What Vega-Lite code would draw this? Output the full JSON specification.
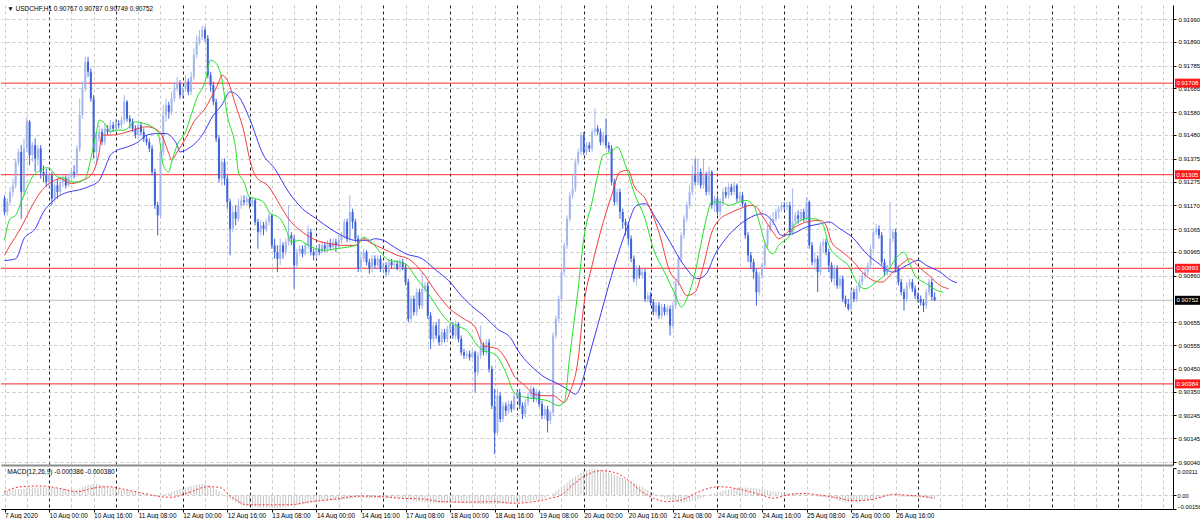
{
"$schema": "https://vega.github.io/schema/vega-lite/v6.json",
"padding": {"left": 0, "top": 5, "right": 0, "bottom": 0},
"background": "white",
"spacing": 1,
"config": {"view": {"stroke": null}, "font": "Liberation Sans", "scale": {"continuousPadding": 0}, "axis": {"labelFont": "Liberation Sans", "labelColor": "#000", "domainColor": "#000", "tickColor": "#000", "labelOverlap": false}},
"datasets": {
"bars": [
{"i":0,"o":0.912,"h":0.91214,"l":0.91126,"c":0.91141,"m":0.00048},
{"i":1,"o":0.91141,"h":0.912,"l":0.91126,"c":0.91185,"m":0.00052},
{"i":2,"o":0.91185,"h":0.91251,"l":0.9117,"c":0.91229,"m":0.00056},
{"i":3,"o":0.91229,"h":0.91288,"l":0.91207,"c":0.91258,"m":0.0006},
{"i":4,"o":0.91258,"h":0.91376,"l":0.91244,"c":0.91361,"m":0.00064},
{"i":5,"o":0.91361,"h":0.9142,"l":0.91346,"c":0.91405,"m":0.00068},
{"i":6,"o":0.91405,"h":0.91435,"l":0.91111,"c":0.91229,"m":0.0007},
{"i":7,"o":0.91229,"h":0.91464,"l":0.91214,"c":0.9142,"m":0.00074},
{"i":8,"o":0.9142,"h":0.9156,"l":0.91405,"c":0.91538,"m":0.00079},
{"i":9,"o":0.91538,"h":0.91545,"l":0.91346,"c":0.91391,"m":0.00083},
{"i":10,"o":0.91391,"h":0.91449,"l":0.91361,"c":0.91435,"m":0.00086},
{"i":11,"o":0.91435,"h":0.91464,"l":0.91317,"c":0.91376,"m":0.00088},
{"i":12,"o":0.91376,"h":0.91435,"l":0.91346,"c":0.9142,"m":0.0009},
{"i":13,"o":0.9142,"h":0.91435,"l":0.91288,"c":0.91317,"m":0.0009},
{"i":14,"o":0.91317,"h":0.91346,"l":0.91273,"c":0.91302,"m":0.00089},
{"i":15,"o":0.91302,"h":0.91332,"l":0.91251,"c":0.91273,"m":0.00087},
{"i":16,"o":0.91273,"h":0.91317,"l":0.91244,"c":0.91302,"m":0.00085},
{"i":17,"o":0.91302,"h":0.91317,"l":0.9117,"c":0.912,"m":0.00083},
{"i":18,"o":0.912,"h":0.91273,"l":0.91185,"c":0.91258,"m":0.00082},
{"i":19,"o":0.91258,"h":0.91288,"l":0.912,"c":0.91229,"m":0.0008},
{"i":20,"o":0.91229,"h":0.91288,"l":0.91214,"c":0.91273,"m":0.0008},
{"i":21,"o":0.91273,"h":0.9131,"l":0.91251,"c":0.91288,"m":0.00077},
{"i":22,"o":0.91288,"h":0.91302,"l":0.91244,"c":0.91258,"m":0.00073},
{"i":23,"o":0.91258,"h":0.9131,"l":0.91251,"c":0.91295,"m":0.00069},
{"i":24,"o":0.91295,"h":0.91332,"l":0.9128,"c":0.91317,"m":0.00065},
{"i":25,"o":0.91317,"h":0.91346,"l":0.91288,"c":0.9131,"m":0.00061},
{"i":26,"o":0.9131,"h":0.91435,"l":0.91295,"c":0.9142,"m":0.0006},
{"i":27,"o":0.9142,"h":0.9164,"l":0.91405,"c":0.91567,"m":0.00075},
{"i":28,"o":0.91567,"h":0.91714,"l":0.91552,"c":0.91685,"m":0.00092},
{"i":29,"o":0.91685,"h":0.91824,"l":0.9167,"c":0.91802,"m":0.00108},
{"i":30,"o":0.91802,"h":0.91824,"l":0.91736,"c":0.91758,"m":0.00118},
{"i":31,"o":0.91758,"h":0.91773,"l":0.91626,"c":0.9164,"m":0.00124},
{"i":32,"o":0.9164,"h":0.91655,"l":0.91376,"c":0.91405,"m":0.00128},
{"i":33,"o":0.91405,"h":0.91493,"l":0.91361,"c":0.91464,"m":0.0013},
{"i":34,"o":0.91464,"h":0.91523,"l":0.91449,"c":0.91493,"m":0.00124},
{"i":35,"o":0.91493,"h":0.91508,"l":0.91435,"c":0.91449,"m":0.00115},
{"i":36,"o":0.91449,"h":0.9153,"l":0.91435,"c":0.91508,"m":0.00106},
{"i":37,"o":0.91508,"h":0.91523,"l":0.91479,"c":0.91493,"m":0.00098},
{"i":38,"o":0.91493,"h":0.91545,"l":0.91479,"c":0.91523,"m":0.0009},
{"i":39,"o":0.91523,"h":0.91538,"l":0.91493,"c":0.91508,"m":0.00084},
{"i":40,"o":0.91508,"h":0.91552,"l":0.91493,"c":0.9153,"m":0.00078},
{"i":41,"o":0.9153,"h":0.91545,"l":0.91508,"c":0.91523,"m":0.00072},
{"i":42,"o":0.91523,"h":0.9156,"l":0.91508,"c":0.91545,"m":0.00066},
{"i":43,"o":0.91545,"h":0.91655,"l":0.9153,"c":0.91626,"m":0.0006},
{"i":44,"o":0.91626,"h":0.91633,"l":0.91538,"c":0.91552,"m":0.00055},
{"i":45,"o":0.91552,"h":0.91567,"l":0.91508,"c":0.91538,"m":0.00049},
{"i":46,"o":0.91538,"h":0.91552,"l":0.91493,"c":0.91508,"m":0.00043},
{"i":47,"o":0.91508,"h":0.91523,"l":0.91464,"c":0.91479,"m":0.00037},
{"i":48,"o":0.91479,"h":0.91538,"l":0.91464,"c":0.91523,"m":0.00031},
{"i":49,"o":0.91523,"h":0.91538,"l":0.91479,"c":0.91493,"m":0.00025},
{"i":50,"o":0.91493,"h":0.91508,"l":0.91449,"c":0.91464,"m":0.00018},
{"i":51,"o":0.91464,"h":0.91479,"l":0.91435,"c":0.91449,"m":0.00011},
{"i":52,"o":0.91449,"h":0.91464,"l":0.91405,"c":0.9142,"m":0.00004},
{"i":53,"o":0.9142,"h":0.91435,"l":0.91302,"c":0.91317,"m":-0.00003},
{"i":54,"o":0.91317,"h":0.91332,"l":0.91155,"c":0.9117,"m":-0.0001},
{"i":55,"o":0.9117,"h":0.91185,"l":0.91038,"c":0.91126,"m":-0.00006},
{"i":56,"o":0.91126,"h":0.91435,"l":0.91111,"c":0.91405,"m":0.00002},
{"i":57,"o":0.91405,"h":0.91611,"l":0.91391,"c":0.91567,"m":0.0001},
{"i":58,"o":0.91567,"h":0.9164,"l":0.91538,"c":0.91611,"m":0.00015},
{"i":59,"o":0.91611,"h":0.91626,"l":0.91552,"c":0.91582,"m":0.00026},
{"i":60,"o":0.91582,"h":0.9167,"l":0.91567,"c":0.9164,"m":0.00037},
{"i":61,"o":0.9164,"h":0.91714,"l":0.91626,"c":0.91685,"m":0.00048},
{"i":62,"o":0.91685,"h":0.91736,"l":0.9167,"c":0.91707,"m":0.00059},
{"i":63,"o":0.91707,"h":0.91721,"l":0.9164,"c":0.91655,"m":0.0007},
{"i":64,"o":0.91655,"h":0.91699,"l":0.9164,"c":0.91685,"m":0.00079},
{"i":65,"o":0.91685,"h":0.91743,"l":0.9167,"c":0.91714,"m":0.00088},
{"i":66,"o":0.91714,"h":0.91729,"l":0.91655,"c":0.9167,"m":0.00097},
{"i":67,"o":0.9167,"h":0.91758,"l":0.91655,"c":0.91736,"m":0.00105},
{"i":68,"o":0.91736,"h":0.91861,"l":0.91721,"c":0.91832,"m":0.00113},
{"i":69,"o":0.91832,"h":0.9192,"l":0.91817,"c":0.9189,"m":0.0012},
{"i":70,"o":0.9189,"h":0.91942,"l":0.91876,"c":0.91912,"m":0.00124},
{"i":71,"o":0.91912,"h":0.91961,"l":0.91898,"c":0.91942,"m":0.00128},
{"i":72,"o":0.91942,"h":0.91956,"l":0.9189,"c":0.91905,"m":0.0013},
{"i":73,"o":0.91905,"h":0.9192,"l":0.91729,"c":0.91743,"m":0.00116},
{"i":74,"o":0.91743,"h":0.91758,"l":0.9167,"c":0.91699,"m":0.00101},
{"i":75,"o":0.91699,"h":0.91714,"l":0.91611,"c":0.91626,"m":0.00086},
{"i":76,"o":0.91626,"h":0.9164,"l":0.91449,"c":0.91464,"m":0.0007},
{"i":77,"o":0.91464,"h":0.91479,"l":0.91273,"c":0.91288,"m":0.00045},
{"i":78,"o":0.91288,"h":0.91376,"l":0.91258,"c":0.91361,"m":0.0002},
{"i":79,"o":0.91361,"h":0.91376,"l":0.91258,"c":0.91288,"m":-0.00005},
{"i":80,"o":0.91288,"h":0.91302,"l":0.91155,"c":0.91185,"m":-0.0003},
{"i":81,"o":0.91185,"h":0.912,"l":0.9095,"c":0.91067,"m":-0.00046},
{"i":82,"o":0.91067,"h":0.9117,"l":0.91052,"c":0.91141,"m":-0.00062},
{"i":83,"o":0.91141,"h":0.9117,"l":0.91082,"c":0.91111,"m":-0.00078},
{"i":84,"o":0.91111,"h":0.912,"l":0.91097,"c":0.9117,"m":-0.00094},
{"i":85,"o":0.9117,"h":0.91214,"l":0.91155,"c":0.91192,"m":-0.0011},
{"i":86,"o":0.91192,"h":0.91214,"l":0.9117,"c":0.91185,"m":-0.00115},
{"i":87,"o":0.91185,"h":0.91214,"l":0.9117,"c":0.912,"m":-0.0012},
{"i":88,"o":0.912,"h":0.91207,"l":0.91155,"c":0.91177,"m":-0.00125},
{"i":89,"o":0.91177,"h":0.91207,"l":0.91163,"c":0.91192,"m":-0.0013},
{"i":90,"o":0.91192,"h":0.912,"l":0.91082,"c":0.91097,"m":-0.00135},
{"i":91,"o":0.91097,"h":0.91111,"l":0.90979,"c":0.91052,"m":-0.0014},
{"i":92,"o":0.91052,"h":0.91104,"l":0.91038,"c":0.91082,"m":-0.00145},
{"i":93,"o":0.91082,"h":0.91097,"l":0.91038,"c":0.91067,"m":-0.00146},
{"i":94,"o":0.91067,"h":0.91111,"l":0.91052,"c":0.91097,"m":-0.00147},
{"i":95,"o":0.91097,"h":0.91141,"l":0.91082,"c":0.91126,"m":-0.00147},
{"i":96,"o":0.91126,"h":0.91133,"l":0.90979,"c":0.90994,"m":-0.00147},
{"i":97,"o":0.90994,"h":0.91023,"l":0.90935,"c":0.90964,"m":-0.00146},
{"i":98,"o":0.90964,"h":0.90994,"l":0.90876,"c":0.90935,"m":-0.00146},
{"i":99,"o":0.90935,"h":0.91023,"l":0.90906,"c":0.90994,"m":-0.00145},
{"i":100,"o":0.90994,"h":0.91008,"l":0.90935,"c":0.90964,"m":-0.0014},
{"i":101,"o":0.90964,"h":0.91023,"l":0.9095,"c":0.91008,"m":-0.00135},
{"i":102,"o":0.91008,"h":0.9117,"l":0.90994,"c":0.91038,"m":-0.0013},
{"i":103,"o":0.91038,"h":0.91052,"l":0.90994,"c":0.91023,"m":-0.00125},
{"i":104,"o":0.91023,"h":0.91038,"l":0.90803,"c":0.90906,"m":-0.0012},
{"i":105,"o":0.90906,"h":0.90979,"l":0.90891,"c":0.90964,"m":-0.00115},
{"i":106,"o":0.90964,"h":0.90994,"l":0.9095,"c":0.90979,"m":-0.0011},
{"i":107,"o":0.90979,"h":0.90994,"l":0.90942,"c":0.90957,"m":-0.00104},
{"i":108,"o":0.90957,"h":0.91008,"l":0.9095,"c":0.90994,"m":-0.00098},
{"i":109,"o":0.90994,"h":0.91082,"l":0.90979,"c":0.91052,"m":-0.00092},
{"i":110,"o":0.91052,"h":0.91067,"l":0.9095,"c":0.90964,"m":-0.00086},
{"i":111,"o":0.90964,"h":0.90979,"l":0.90928,"c":0.9095,"m":-0.0008},
{"i":112,"o":0.9095,"h":0.90994,"l":0.90935,"c":0.90979,"m":-0.00075},
{"i":113,"o":0.90979,"h":0.91001,"l":0.9095,"c":0.90964,"m":-0.0007},
{"i":114,"o":0.90964,"h":0.91008,"l":0.90957,"c":0.90994,"m":-0.00065},
{"i":115,"o":0.90994,"h":0.91008,"l":0.90964,"c":0.90979,"m":-0.00064},
{"i":116,"o":0.90979,"h":0.91016,"l":0.90964,"c":0.91001,"m":-0.00062},
{"i":117,"o":0.91001,"h":0.91023,"l":0.90972,"c":0.90986,"m":-0.00061},
{"i":118,"o":0.90986,"h":0.91023,"l":0.90979,"c":0.91008,"m":-0.0006},
{"i":119,"o":0.91008,"h":0.91023,"l":0.90964,"c":0.90994,"m":-0.00058},
{"i":120,"o":0.90994,"h":0.91038,"l":0.90979,"c":0.91016,"m":-0.00057},
{"i":121,"o":0.91016,"h":0.91052,"l":0.91001,"c":0.91038,"m":-0.00055},
{"i":122,"o":0.91038,"h":0.91111,"l":0.91023,"c":0.91097,"m":-0.00051},
{"i":123,"o":0.91097,"h":0.91111,"l":0.91008,"c":0.91023,"m":-0.00047},
{"i":124,"o":0.91023,"h":0.91214,"l":0.91008,"c":0.91141,"m":-0.00043},
{"i":125,"o":0.91141,"h":0.91155,"l":0.91067,"c":0.91097,"m":-0.00039},
{"i":126,"o":0.91097,"h":0.91111,"l":0.91008,"c":0.91023,"m":-0.00036},
{"i":127,"o":0.91023,"h":0.91038,"l":0.90876,"c":0.90891,"m":-0.00033},
{"i":128,"o":0.90891,"h":0.90964,"l":0.90876,"c":0.90935,"m":-0.0003},
{"i":129,"o":0.90935,"h":0.90979,"l":0.9092,"c":0.90964,"m":-0.00031},
{"i":130,"o":0.90964,"h":0.90972,"l":0.90906,"c":0.9092,"m":-0.00033},
{"i":131,"o":0.9092,"h":0.90935,"l":0.90869,"c":0.90891,"m":-0.00034},
{"i":132,"o":0.90891,"h":0.9095,"l":0.90876,"c":0.90935,"m":-0.00036},
{"i":133,"o":0.90935,"h":0.9095,"l":0.90891,"c":0.90906,"m":-0.00037},
{"i":134,"o":0.90906,"h":0.9095,"l":0.90891,"c":0.90935,"m":-0.00039},
{"i":135,"o":0.90935,"h":0.9095,"l":0.90876,"c":0.90891,"m":-0.0004},
{"i":136,"o":0.90891,"h":0.9092,"l":0.90869,"c":0.90906,"m":-0.00039},
{"i":137,"o":0.90906,"h":0.9092,"l":0.90861,"c":0.90876,"m":-0.00037},
{"i":138,"o":0.90876,"h":0.90935,"l":0.90861,"c":0.9092,"m":-0.00036},
{"i":139,"o":0.9092,"h":0.90935,"l":0.90891,"c":0.90906,"m":-0.00034},
{"i":140,"o":0.90906,"h":0.90928,"l":0.90891,"c":0.90913,"m":-0.00033},
{"i":141,"o":0.90913,"h":0.90928,"l":0.90884,"c":0.90891,"m":-0.00031},
{"i":142,"o":0.90891,"h":0.90935,"l":0.90876,"c":0.9092,"m":-0.0003},
{"i":143,"o":0.9092,"h":0.90935,"l":0.90884,"c":0.90898,"m":-0.00036},
{"i":144,"o":0.90898,"h":0.90913,"l":0.90817,"c":0.90832,"m":-0.00042},
{"i":145,"o":0.90832,"h":0.90847,"l":0.90656,"c":0.9067,"m":-0.00048},
{"i":146,"o":0.9067,"h":0.90773,"l":0.90656,"c":0.90758,"m":-0.00055},
{"i":147,"o":0.90758,"h":0.90773,"l":0.90685,"c":0.907,"m":-0.00061},
{"i":148,"o":0.907,"h":0.90803,"l":0.90685,"c":0.90788,"m":-0.00068},
{"i":149,"o":0.90788,"h":0.90803,"l":0.90714,"c":0.90729,"m":-0.00074},
{"i":150,"o":0.90729,"h":0.90876,"l":0.90714,"c":0.90803,"m":-0.0008},
{"i":151,"o":0.90803,"h":0.90832,"l":0.90788,"c":0.90817,"m":-0.00081},
{"i":152,"o":0.90817,"h":0.90832,"l":0.9067,"c":0.90685,"m":-0.00083},
{"i":153,"o":0.90685,"h":0.907,"l":0.90538,"c":0.90582,"m":-0.00084},
{"i":154,"o":0.90582,"h":0.90656,"l":0.90567,"c":0.90641,"m":-0.00086},
{"i":155,"o":0.90641,"h":0.90656,"l":0.90582,"c":0.90597,"m":-0.00087},
{"i":156,"o":0.90597,"h":0.9067,"l":0.90553,"c":0.90567,"m":-0.00089},
{"i":157,"o":0.90567,"h":0.90626,"l":0.90553,"c":0.90611,"m":-0.0009},
{"i":158,"o":0.90611,"h":0.90626,"l":0.90567,"c":0.90582,"m":-0.0009},
{"i":159,"o":0.90582,"h":0.90641,"l":0.90567,"c":0.90626,"m":-0.0009},
{"i":160,"o":0.90626,"h":0.90656,"l":0.90604,"c":0.90641,"m":-0.0009},
{"i":161,"o":0.90641,"h":0.90656,"l":0.90582,"c":0.90597,"m":-0.0009},
{"i":162,"o":0.90597,"h":0.90663,"l":0.90582,"c":0.90648,"m":-0.0009},
{"i":163,"o":0.90648,"h":0.90656,"l":0.90567,"c":0.90582,"m":-0.0009},
{"i":164,"o":0.90582,"h":0.90597,"l":0.90509,"c":0.90523,"m":-0.0009},
{"i":165,"o":0.90523,"h":0.90538,"l":0.90494,"c":0.90509,"m":-0.00091},
{"i":166,"o":0.90509,"h":0.90531,"l":0.90494,"c":0.90516,"m":-0.00093},
{"i":167,"o":0.90516,"h":0.90531,"l":0.90487,"c":0.90501,"m":-0.00094},
{"i":168,"o":0.90501,"h":0.90538,"l":0.90494,"c":0.90523,"m":-0.00096},
{"i":169,"o":0.90523,"h":0.90531,"l":0.90347,"c":0.90435,"m":-0.00097},
{"i":170,"o":0.90435,"h":0.90523,"l":0.9042,"c":0.90509,"m":-0.00099},
{"i":171,"o":0.90509,"h":0.90641,"l":0.90494,"c":0.90553,"m":-0.001},
{"i":172,"o":0.90553,"h":0.90567,"l":0.90509,"c":0.90523,"m":-0.001},
{"i":173,"o":0.90523,"h":0.90582,"l":0.90509,"c":0.90567,"m":-0.001},
{"i":174,"o":0.90567,"h":0.90582,"l":0.90435,"c":0.9045,"m":-0.001},
{"i":175,"o":0.9045,"h":0.90464,"l":0.90273,"c":0.90288,"m":-0.001},
{"i":176,"o":0.90288,"h":0.90362,"l":0.90075,"c":0.9017,"m":-0.001},
{"i":177,"o":0.9017,"h":0.90362,"l":0.90156,"c":0.90332,"m":-0.001},
{"i":178,"o":0.90332,"h":0.90347,"l":0.90215,"c":0.90229,"m":-0.001},
{"i":179,"o":0.90229,"h":0.90303,"l":0.90215,"c":0.90288,"m":-0.00099},
{"i":180,"o":0.90288,"h":0.90303,"l":0.90244,"c":0.90266,"m":-0.00097},
{"i":181,"o":0.90266,"h":0.9031,"l":0.90251,"c":0.90295,"m":-0.00096},
{"i":182,"o":0.90295,"h":0.9031,"l":0.90259,"c":0.90273,"m":-0.00094},
{"i":183,"o":0.90273,"h":0.90347,"l":0.90266,"c":0.90332,"m":-0.00093},
{"i":184,"o":0.90332,"h":0.90362,"l":0.90318,"c":0.90347,"m":-0.00091},
{"i":185,"o":0.90347,"h":0.90362,"l":0.90273,"c":0.90288,"m":-0.0009},
{"i":186,"o":0.90288,"h":0.90303,"l":0.90229,"c":0.90251,"m":-0.00084},
{"i":187,"o":0.90251,"h":0.90318,"l":0.90237,"c":0.90303,"m":-0.00078},
{"i":188,"o":0.90303,"h":0.90347,"l":0.90288,"c":0.90332,"m":-0.00071},
{"i":189,"o":0.90332,"h":0.90376,"l":0.90318,"c":0.90362,"m":-0.00065},
{"i":190,"o":0.90362,"h":0.90369,"l":0.90303,"c":0.90318,"m":-0.00059},
{"i":191,"o":0.90318,"h":0.90362,"l":0.90303,"c":0.90347,"m":-0.00053},
{"i":192,"o":0.90347,"h":0.90354,"l":0.90281,"c":0.90295,"m":-0.00046},
{"i":193,"o":0.90295,"h":0.9031,"l":0.90229,"c":0.90244,"m":-0.0004},
{"i":194,"o":0.90244,"h":0.90288,"l":0.90229,"c":0.90273,"m":-0.00027},
{"i":195,"o":0.90273,"h":0.90288,"l":0.9017,"c":0.90222,"m":-0.00013},
{"i":196,"o":0.90222,"h":0.90266,"l":0.90207,"c":0.90259,"m":0},
{"i":197,"o":0.90259,"h":0.90611,"l":0.90244,"c":0.90597,"m":0.00023},
{"i":198,"o":0.90597,"h":0.90685,"l":0.90582,"c":0.9067,"m":0.00045},
{"i":199,"o":0.9067,"h":0.90773,"l":0.90656,"c":0.90758,"m":0.00068},
{"i":200,"o":0.90758,"h":0.90891,"l":0.90744,"c":0.90876,"m":0.0009},
{"i":201,"o":0.90876,"h":0.91008,"l":0.90861,"c":0.90994,"m":0.00117},
{"i":202,"o":0.90994,"h":0.91126,"l":0.90979,"c":0.91111,"m":0.00143},
{"i":203,"o":0.91111,"h":0.91229,"l":0.91097,"c":0.91214,"m":0.0017},
{"i":204,"o":0.91214,"h":0.91302,"l":0.912,"c":0.91244,"m":0.00193},
{"i":205,"o":0.91244,"h":0.91376,"l":0.91229,"c":0.91361,"m":0.00215},
{"i":206,"o":0.91361,"h":0.9142,"l":0.91346,"c":0.91405,"m":0.00238},
{"i":207,"o":0.91405,"h":0.91493,"l":0.91391,"c":0.91479,"m":0.0026},
{"i":208,"o":0.91479,"h":0.91493,"l":0.91391,"c":0.91405,"m":0.00273},
{"i":209,"o":0.91405,"h":0.91449,"l":0.91391,"c":0.91435,"m":0.00287},
{"i":210,"o":0.91435,"h":0.91449,"l":0.91405,"c":0.9142,"m":0.003},
{"i":211,"o":0.9142,"h":0.91508,"l":0.91405,"c":0.91493,"m":0.003},
{"i":212,"o":0.91493,"h":0.91596,"l":0.91479,"c":0.91508,"m":0.00298},
{"i":213,"o":0.91508,"h":0.91523,"l":0.91479,"c":0.91493,"m":0.00295},
{"i":214,"o":0.91493,"h":0.91508,"l":0.91435,"c":0.91449,"m":0.0029},
{"i":215,"o":0.91449,"h":0.91493,"l":0.91435,"c":0.91479,"m":0.0028},
{"i":216,"o":0.91479,"h":0.91552,"l":0.9142,"c":0.91435,"m":0.0027},
{"i":217,"o":0.91435,"h":0.91449,"l":0.91405,"c":0.9142,"m":0.0026},
{"i":218,"o":0.9142,"h":0.91435,"l":0.91258,"c":0.91273,"m":0.0025},
{"i":219,"o":0.91273,"h":0.91288,"l":0.9117,"c":0.91185,"m":0.00237},
{"i":220,"o":0.91185,"h":0.91244,"l":0.9117,"c":0.91229,"m":0.00223},
{"i":221,"o":0.91229,"h":0.91244,"l":0.91111,"c":0.91141,"m":0.0021},
{"i":222,"o":0.91141,"h":0.91155,"l":0.91067,"c":0.91097,"m":0.00197},
{"i":223,"o":0.91097,"h":0.91111,"l":0.91038,"c":0.91082,"m":0.00183},
{"i":224,"o":0.91082,"h":0.91097,"l":0.90994,"c":0.91023,"m":0.0017},
{"i":225,"o":0.91023,"h":0.91038,"l":0.9092,"c":0.90935,"m":0.00157},
{"i":226,"o":0.90935,"h":0.9095,"l":0.90832,"c":0.90847,"m":0.00143},
{"i":227,"o":0.90847,"h":0.90906,"l":0.90817,"c":0.90891,"m":0.0013},
{"i":228,"o":0.90891,"h":0.90906,"l":0.90847,"c":0.90861,"m":0.00112},
{"i":229,"o":0.90861,"h":0.90891,"l":0.90847,"c":0.90876,"m":0.00094},
{"i":230,"o":0.90876,"h":0.90891,"l":0.90744,"c":0.90758,"m":0.00076},
{"i":231,"o":0.90758,"h":0.90788,"l":0.90744,"c":0.90773,"m":0.00058},
{"i":232,"o":0.90773,"h":0.90788,"l":0.90729,"c":0.90744,"m":0.0004},
{"i":233,"o":0.90744,"h":0.90758,"l":0.90685,"c":0.907,"m":0.00024},
{"i":234,"o":0.907,"h":0.90744,"l":0.90685,"c":0.90729,"m":0.00008},
{"i":235,"o":0.90729,"h":0.90744,"l":0.9067,"c":0.90685,"m":-0.00008},
{"i":236,"o":0.90685,"h":0.90736,"l":0.9067,"c":0.90722,"m":-0.00024},
{"i":237,"o":0.90722,"h":0.90736,"l":0.90685,"c":0.907,"m":-0.0004},
{"i":238,"o":0.907,"h":0.90729,"l":0.90685,"c":0.90714,"m":-0.00048},
{"i":239,"o":0.90714,"h":0.90729,"l":0.90597,"c":0.90641,"m":-0.00057},
{"i":240,"o":0.90641,"h":0.90744,"l":0.90626,"c":0.90729,"m":-0.00065},
{"i":241,"o":0.90729,"h":0.90847,"l":0.90714,"c":0.90832,"m":-0.00073},
{"i":242,"o":0.90832,"h":0.9095,"l":0.90817,"c":0.90935,"m":-0.00082},
{"i":243,"o":0.90935,"h":0.91052,"l":0.9092,"c":0.91038,"m":-0.0009},
{"i":244,"o":0.91038,"h":0.91126,"l":0.91023,"c":0.91111,"m":-0.00084},
{"i":245,"o":0.91111,"h":0.91185,"l":0.91097,"c":0.9117,"m":-0.00078},
{"i":246,"o":0.9117,"h":0.91258,"l":0.91155,"c":0.91229,"m":-0.00072},
{"i":247,"o":0.91229,"h":0.91346,"l":0.91214,"c":0.91302,"m":-0.00066},
{"i":248,"o":0.91302,"h":0.91376,"l":0.91258,"c":0.91273,"m":-0.0006},
{"i":249,"o":0.91273,"h":0.91376,"l":0.91258,"c":0.91317,"m":-0.00047},
{"i":250,"o":0.91317,"h":0.91332,"l":0.91244,"c":0.91258,"m":-0.00035},
{"i":251,"o":0.91258,"h":0.91376,"l":0.91244,"c":0.91302,"m":-0.00022},
{"i":252,"o":0.91302,"h":0.91317,"l":0.91214,"c":0.91229,"m":-0.00009},
{"i":253,"o":0.91229,"h":0.91339,"l":0.91214,"c":0.91317,"m":0.00003},
{"i":254,"o":0.91317,"h":0.91324,"l":0.91155,"c":0.9117,"m":0.00015},
{"i":255,"o":0.9117,"h":0.91214,"l":0.91141,"c":0.912,"m":0.00024},
{"i":256,"o":0.912,"h":0.91214,"l":0.91126,"c":0.91141,"m":0.00033},
{"i":257,"o":0.91141,"h":0.912,"l":0.91126,"c":0.91185,"m":0.00042},
{"i":258,"o":0.91185,"h":0.91244,"l":0.9117,"c":0.91229,"m":0.00051},
{"i":259,"o":0.91229,"h":0.91251,"l":0.912,"c":0.91214,"m":0.0006},
{"i":260,"o":0.91214,"h":0.91266,"l":0.912,"c":0.91251,"m":0.00066},
{"i":261,"o":0.91251,"h":0.91266,"l":0.91214,"c":0.91229,"m":0.00072},
{"i":262,"o":0.91229,"h":0.91273,"l":0.91214,"c":0.91258,"m":0.00078},
{"i":263,"o":0.91258,"h":0.91266,"l":0.91185,"c":0.912,"m":0.00084},
{"i":264,"o":0.912,"h":0.91229,"l":0.91185,"c":0.91214,"m":0.0009},
{"i":265,"o":0.91214,"h":0.91229,"l":0.91163,"c":0.91177,"m":0.00088},
{"i":266,"o":0.91177,"h":0.91185,"l":0.91023,"c":0.91038,"m":0.00087},
{"i":267,"o":0.91038,"h":0.91052,"l":0.9092,"c":0.9095,"m":0.00085},
{"i":268,"o":0.9095,"h":0.90964,"l":0.90891,"c":0.9092,"m":0.00083},
{"i":269,"o":0.9092,"h":0.90935,"l":0.90847,"c":0.90876,"m":0.00082},
{"i":270,"o":0.90876,"h":0.90891,"l":0.90729,"c":0.90788,"m":0.0008},
{"i":271,"o":0.90788,"h":0.90876,"l":0.90773,"c":0.90861,"m":0.00074},
{"i":272,"o":0.90861,"h":0.9092,"l":0.90847,"c":0.90906,"m":0.00068},
{"i":273,"o":0.90906,"h":0.91008,"l":0.90891,"c":0.90994,"m":0.00062},
{"i":274,"o":0.90994,"h":0.91082,"l":0.90979,"c":0.91067,"m":0.00056},
{"i":275,"o":0.91067,"h":0.91126,"l":0.91052,"c":0.91097,"m":0.0005},
{"i":276,"o":0.91097,"h":0.91141,"l":0.91082,"c":0.91111,"m":0.00046},
{"i":277,"o":0.91111,"h":0.91155,"l":0.91097,"c":0.91141,"m":0.00042},
{"i":278,"o":0.91141,"h":0.9117,"l":0.91111,"c":0.91155,"m":0.00038},
{"i":279,"o":0.91155,"h":0.91185,"l":0.91141,"c":0.9117,"m":0.00033},
{"i":280,"o":0.9117,"h":0.91185,"l":0.91148,"c":0.91163,"m":0.00029},
{"i":281,"o":0.91163,"h":0.91185,"l":0.91148,"c":0.9117,"m":0.00025},
{"i":282,"o":0.9117,"h":0.91185,"l":0.91038,"c":0.91052,"m":0.00023},
{"i":283,"o":0.91052,"h":0.91244,"l":0.91038,"c":0.91097,"m":0.00021},
{"i":284,"o":0.91097,"h":0.91141,"l":0.91082,"c":0.91126,"m":0.00019},
{"i":285,"o":0.91126,"h":0.91148,"l":0.91089,"c":0.91111,"m":0.00017},
{"i":286,"o":0.91111,"h":0.91155,"l":0.91097,"c":0.91141,"m":0.00015},
{"i":287,"o":0.91141,"h":0.91155,"l":0.91097,"c":0.91111,"m":0.0001},
{"i":288,"o":0.91111,"h":0.91207,"l":0.91097,"c":0.91185,"m":0.00005},
{"i":289,"o":0.91185,"h":0.91192,"l":0.90979,"c":0.90994,"m":0},
{"i":290,"o":0.90994,"h":0.91008,"l":0.90906,"c":0.9092,"m":-0.00005},
{"i":291,"o":0.9092,"h":0.90964,"l":0.90884,"c":0.90935,"m":-0.0001},
{"i":292,"o":0.90935,"h":0.9095,"l":0.90788,"c":0.90876,"m":-0.00015},
{"i":293,"o":0.90876,"h":0.91008,"l":0.90861,"c":0.90994,"m":-0.0002},
{"i":294,"o":0.90994,"h":0.91023,"l":0.90964,"c":0.91008,"m":-0.00025},
{"i":295,"o":0.91008,"h":0.91023,"l":0.9095,"c":0.90964,"m":-0.0003},
{"i":296,"o":0.90964,"h":0.90979,"l":0.90876,"c":0.90906,"m":-0.00035},
{"i":297,"o":0.90906,"h":0.9092,"l":0.90832,"c":0.90847,"m":-0.0004},
{"i":298,"o":0.90847,"h":0.90906,"l":0.90817,"c":0.90891,"m":-0.00048},
{"i":299,"o":0.90891,"h":0.90906,"l":0.90803,"c":0.90817,"m":-0.00056},
{"i":300,"o":0.90817,"h":0.90861,"l":0.90803,"c":0.90847,"m":-0.00064},
{"i":301,"o":0.90847,"h":0.90861,"l":0.90744,"c":0.90758,"m":-0.00072},
{"i":302,"o":0.90758,"h":0.90773,"l":0.90722,"c":0.90736,"m":-0.0008},
{"i":303,"o":0.90736,"h":0.90758,"l":0.90707,"c":0.90714,"m":-0.0008},
{"i":304,"o":0.90714,"h":0.90803,"l":0.90707,"c":0.90788,"m":-0.0008},
{"i":305,"o":0.90788,"h":0.90803,"l":0.90744,"c":0.90758,"m":-0.0008},
{"i":306,"o":0.90758,"h":0.90817,"l":0.90744,"c":0.90803,"m":-0.0008},
{"i":307,"o":0.90803,"h":0.90847,"l":0.90788,"c":0.90832,"m":-0.0008},
{"i":308,"o":0.90832,"h":0.90876,"l":0.90817,"c":0.90861,"m":-0.00073},
{"i":309,"o":0.90861,"h":0.90891,"l":0.90847,"c":0.90876,"m":-0.00067},
{"i":310,"o":0.90876,"h":0.9092,"l":0.90861,"c":0.90906,"m":-0.0006},
{"i":311,"o":0.90906,"h":0.90994,"l":0.90891,"c":0.90979,"m":-0.00053},
{"i":312,"o":0.90979,"h":0.91067,"l":0.90964,"c":0.91052,"m":-0.00047},
{"i":313,"o":0.91052,"h":0.91089,"l":0.91038,"c":0.91067,"m":-0.0004},
{"i":314,"o":0.91067,"h":0.91082,"l":0.91023,"c":0.91038,"m":-0.00034},
{"i":315,"o":0.91038,"h":0.91052,"l":0.90906,"c":0.9092,"m":-0.00028},
{"i":316,"o":0.9092,"h":0.90935,"l":0.90861,"c":0.90876,"m":-0.00022},
{"i":317,"o":0.90876,"h":0.90906,"l":0.90861,"c":0.90906,"m":-0.00016},
{"i":318,"o":0.90906,"h":0.91185,"l":0.90891,"c":0.91023,"m":-0.0001},
{"i":319,"o":0.91023,"h":0.91067,"l":0.91008,"c":0.91052,"m":-0.00012},
{"i":320,"o":0.91052,"h":0.91067,"l":0.90876,"c":0.90891,"m":-0.00013},
{"i":321,"o":0.90891,"h":0.90906,"l":0.90817,"c":0.90832,"m":-0.00015},
{"i":322,"o":0.90832,"h":0.90847,"l":0.90773,"c":0.90788,"m":-0.00017},
{"i":323,"o":0.90788,"h":0.90803,"l":0.90707,"c":0.90758,"m":-0.00018},
{"i":324,"o":0.90758,"h":0.90832,"l":0.90744,"c":0.90817,"m":-0.0002},
{"i":325,"o":0.90817,"h":0.90847,"l":0.90803,"c":0.90832,"m":-0.00022},
{"i":326,"o":0.90832,"h":0.90847,"l":0.90788,"c":0.90803,"m":-0.00024},
{"i":327,"o":0.90803,"h":0.90817,"l":0.90758,"c":0.90773,"m":-0.00026},
{"i":328,"o":0.90773,"h":0.90788,"l":0.90744,"c":0.90758,"m":-0.00028},
{"i":329,"o":0.90758,"h":0.90773,"l":0.90729,"c":0.90744,"m":-0.0003},
{"i":330,"o":0.90744,"h":0.90758,"l":0.907,"c":0.90729,"m":-0.00032},
{"i":331,"o":0.90729,"h":0.90803,"l":0.90714,"c":0.90788,"m":-0.00034},
{"i":332,"o":0.90788,"h":0.90847,"l":0.90773,"c":0.90832,"m":-0.00036},
{"i":333,"o":0.90832,"h":0.90847,"l":0.90751,"c":0.90767,"m":-0.00037},
{"i":334,"o":0.90767,"h":0.90787,"l":0.90749,"c":0.90752,"m":-0.000386}
],
"ma": [
{"s":"jaw","i":0,"v":0.90927},{"s":"jaw","i":4,"v":0.90935},{"s":"jaw","i":7,"v":0.91023},{"s":"jaw","i":11,"v":0.91067},{"s":"jaw","i":14,"v":0.91141},{"s":"jaw","i":17,"v":0.91185},{"s":"jaw","i":20,"v":0.91214},{"s":"jaw","i":23,"v":0.91229},{"s":"jaw","i":26,"v":0.91236},{"s":"jaw","i":30,"v":0.91251},{"s":"jaw","i":34,"v":0.9128},{"s":"jaw","i":36,"v":0.91332},{"s":"jaw","i":38,"v":0.91391},{"s":"jaw","i":40,"v":0.9141},{"s":"jaw","i":44,"v":0.91427},{"s":"jaw","i":48,"v":0.91449},{"s":"jaw","i":51,"v":0.91479},{"s":"jaw","i":55,"v":0.91486},{"s":"jaw","i":58,"v":0.91486},{"s":"jaw","i":60,"v":0.91471},{"s":"jaw","i":62,"v":0.91435},{"s":"jaw","i":63,"v":0.91405},{"s":"jaw","i":66,"v":0.9142},{"s":"jaw","i":71,"v":0.91479},{"s":"jaw","i":75,"v":0.91567},{"s":"jaw","i":78,"v":0.91611},{"s":"jaw","i":81,"v":0.9167},{"s":"jaw","i":84,"v":0.9165},{"s":"jaw","i":88,"v":0.91552},{"s":"jaw","i":93,"v":0.91391},{"s":"jaw","i":97,"v":0.91332},{"s":"jaw","i":102,"v":0.91229},{"s":"jaw","i":107,"v":0.91155},{"s":"jaw","i":112,"v":0.91111},{"s":"jaw","i":117,"v":0.91067},{"s":"jaw","i":121,"v":0.91038},{"s":"jaw","i":126,"v":0.91016},{"s":"jaw","i":131,"v":0.91016},{"s":"jaw","i":133,"v":0.91023},{"s":"jaw","i":136,"v":0.91016},{"s":"jaw","i":140,"v":0.90986},{"s":"jaw","i":144,"v":0.90957},{"s":"jaw","i":150,"v":0.90935},{"s":"jaw","i":155,"v":0.90884},{"s":"jaw","i":160,"v":0.90832},{"s":"jaw","i":164,"v":0.90773},{"s":"jaw","i":169,"v":0.90714},{"s":"jaw","i":172,"v":0.90685},{"s":"jaw","i":177,"v":0.90626},{"s":"jaw","i":182,"v":0.90582},{"s":"jaw","i":184,"v":0.90538},{"s":"jaw","i":189,"v":0.90464},{"s":"jaw","i":194,"v":0.90413},{"s":"jaw","i":199,"v":0.90383},{"s":"jaw","i":202,"v":0.90362},{"s":"jaw","i":205,"v":0.90339},{"s":"jaw","i":207,"v":0.90376},{"s":"jaw","i":209,"v":0.90464},{"s":"jaw","i":213,"v":0.90641},{"s":"jaw","i":218,"v":0.90861},{"s":"jaw","i":223,"v":0.91052},{"s":"jaw","i":227,"v":0.9117},{"s":"jaw","i":230,"v":0.91177},{"s":"jaw","i":234,"v":0.91111},{"s":"jaw","i":239,"v":0.91008},{"s":"jaw","i":244,"v":0.90906},{"s":"jaw","i":249,"v":0.90847},{"s":"jaw","i":252,"v":0.90869},{"s":"jaw","i":255,"v":0.9095},{"s":"jaw","i":259,"v":0.91023},{"s":"jaw","i":263,"v":0.91075},{"s":"jaw","i":267,"v":0.91111},{"s":"jaw","i":272,"v":0.91133},{"s":"jaw","i":276,"v":0.91097},{"s":"jaw","i":279,"v":0.91038},{"s":"jaw","i":283,"v":0.91045},{"s":"jaw","i":288,"v":0.91075},{"s":"jaw","i":293,"v":0.91089},{"s":"jaw","i":296,"v":0.91097},{"s":"jaw","i":300,"v":0.91067},{"s":"jaw","i":305,"v":0.91023},{"s":"jaw","i":309,"v":0.90964},{"s":"jaw","i":314,"v":0.90913},{"s":"jaw","i":319,"v":0.90876},{"s":"jaw","i":324,"v":0.90906},{"s":"jaw","i":328,"v":0.90928},{"s":"jaw","i":331,"v":0.90906},{"s":"jaw","i":336,"v":0.90876},{"s":"jaw","i":340,"v":0.90839},{"s":"jaw","i":342,"v":0.90829},
{"s":"teeth","i":0,"v":0.9095},{"s":"teeth","i":2,"v":0.90994},{"s":"teeth","i":5,"v":0.91052},{"s":"teeth","i":7,"v":0.91097},{"s":"teeth","i":10,"v":0.9117},{"s":"teeth","i":13,"v":0.91229},{"s":"teeth","i":16,"v":0.91266},{"s":"teeth","i":18,"v":0.9128},{"s":"teeth","i":20,"v":0.91288},{"s":"teeth","i":24,"v":0.91266},{"s":"teeth","i":28,"v":0.9128},{"s":"teeth","i":31,"v":0.91302},{"s":"teeth","i":34,"v":0.91405},{"s":"teeth","i":35,"v":0.91479},{"s":"teeth","i":38,"v":0.91479},{"s":"teeth","i":42,"v":0.91486},{"s":"teeth","i":44,"v":0.91493},{"s":"teeth","i":48,"v":0.91508},{"s":"teeth","i":51,"v":0.91516},{"s":"teeth","i":55,"v":0.91501},{"s":"teeth","i":57,"v":0.91464},{"s":"teeth","i":59,"v":0.91398},{"s":"teeth","i":60,"v":0.91369},{"s":"teeth","i":62,"v":0.91405},{"s":"teeth","i":65,"v":0.91464},{"s":"teeth","i":68,"v":0.91538},{"s":"teeth","i":72,"v":0.91596},{"s":"teeth","i":74,"v":0.9164},{"s":"teeth","i":77,"v":0.91714},{"s":"teeth","i":78,"v":0.91743},{"s":"teeth","i":80,"v":0.91721},{"s":"teeth","i":83,"v":0.91611},{"s":"teeth","i":86,"v":0.91493},{"s":"teeth","i":88,"v":0.91376},{"s":"teeth","i":90,"v":0.91302},{"s":"teeth","i":95,"v":0.91251},{"s":"teeth","i":99,"v":0.9117},{"s":"teeth","i":102,"v":0.91111},{"s":"teeth","i":107,"v":0.91052},{"s":"teeth","i":112,"v":0.91016},{"s":"teeth","i":117,"v":0.91001},{"s":"teeth","i":121,"v":0.90994},{"s":"teeth","i":126,"v":0.90994},{"s":"teeth","i":129,"v":0.91023},{"s":"teeth","i":131,"v":0.91008},{"s":"teeth","i":136,"v":0.90979},{"s":"teeth","i":141,"v":0.9095},{"s":"teeth","i":145,"v":0.90935},{"s":"teeth","i":150,"v":0.90876},{"s":"teeth","i":155,"v":0.90788},{"s":"teeth","i":160,"v":0.90714},{"s":"teeth","i":165,"v":0.9067},{"s":"teeth","i":169,"v":0.90634},{"s":"teeth","i":172,"v":0.90553},{"s":"teeth","i":175,"v":0.90545},{"s":"teeth","i":177,"v":0.90538},{"s":"teeth","i":180,"v":0.90494},{"s":"teeth","i":183,"v":0.9042},{"s":"teeth","i":187,"v":0.90376},{"s":"teeth","i":190,"v":0.90339},{"s":"teeth","i":194,"v":0.90332},{"s":"teeth","i":197,"v":0.90332},{"s":"teeth","i":201,"v":0.90303},{"s":"teeth","i":203,"v":0.90347},{"s":"teeth","i":206,"v":0.90494},{"s":"teeth","i":208,"v":0.90729},{"s":"teeth","i":211,"v":0.90906},{"s":"teeth","i":214,"v":0.91052},{"s":"teeth","i":218,"v":0.91214},{"s":"teeth","i":221,"v":0.91317},{"s":"teeth","i":224,"v":0.91324},{"s":"teeth","i":226,"v":0.91258},{"s":"teeth","i":230,"v":0.912},{"s":"teeth","i":235,"v":0.91052},{"s":"teeth","i":239,"v":0.90876},{"s":"teeth","i":242,"v":0.90832},{"s":"teeth","i":245,"v":0.90773},{"s":"teeth","i":248,"v":0.90788},{"s":"teeth","i":251,"v":0.90906},{"s":"teeth","i":254,"v":0.91052},{"s":"teeth","i":257,"v":0.91111},{"s":"teeth","i":260,"v":0.91133},{"s":"teeth","i":264,"v":0.91155},{"s":"teeth","i":268,"v":0.9117},{"s":"teeth","i":270,"v":0.91163},{"s":"teeth","i":272,"v":0.91126},{"s":"teeth","i":276,"v":0.91052},{"s":"teeth","i":278,"v":0.91023},{"s":"teeth","i":282,"v":0.9106},{"s":"teeth","i":285,"v":0.91082},{"s":"teeth","i":289,"v":0.911},{"s":"teeth","i":293,"v":0.91104},{"s":"teeth","i":295,"v":0.91082},{"s":"teeth","i":297,"v":0.91008},{"s":"teeth","i":301,"v":0.90964},{"s":"teeth","i":305,"v":0.9092},{"s":"teeth","i":308,"v":0.90876},{"s":"teeth","i":312,"v":0.90839},{"s":"teeth","i":315,"v":0.90832},{"s":"teeth","i":319,"v":0.90876},{"s":"teeth","i":323,"v":0.9092},{"s":"teeth","i":325,"v":0.90935},{"s":"teeth","i":329,"v":0.90891},{"s":"teeth","i":332,"v":0.90861},{"s":"teeth","i":336,"v":0.90817},{"s":"teeth","i":339,"v":0.90803},
{"s":"lips","i":0,"v":0.91016},{"s":"lips","i":2,"v":0.91111},{"s":"lips","i":4,"v":0.91126},{"s":"lips","i":6,"v":0.91185},{"s":"lips","i":8,"v":0.91244},{"s":"lips","i":10,"v":0.91295},{"s":"lips","i":13,"v":0.91324},{"s":"lips","i":15,"v":0.91336},{"s":"lips","i":17,"v":0.91324},{"s":"lips","i":19,"v":0.91295},{"s":"lips","i":22,"v":0.91288},{"s":"lips","i":24,"v":0.91273},{"s":"lips","i":26,"v":0.91273},{"s":"lips","i":29,"v":0.91288},{"s":"lips","i":31,"v":0.91376},{"s":"lips","i":33,"v":0.91493},{"s":"lips","i":34,"v":0.91545},{"s":"lips","i":36,"v":0.9153},{"s":"lips","i":38,"v":0.91493},{"s":"lips","i":40,"v":0.91501},{"s":"lips","i":43,"v":0.91501},{"s":"lips","i":47,"v":0.91538},{"s":"lips","i":50,"v":0.9153},{"s":"lips","i":53,"v":0.91516},{"s":"lips","i":55,"v":0.91493},{"s":"lips","i":56,"v":0.91435},{"s":"lips","i":57,"v":0.91346},{"s":"lips","i":59,"v":0.91317},{"s":"lips","i":60,"v":0.91361},{"s":"lips","i":62,"v":0.91435},{"s":"lips","i":65,"v":0.91493},{"s":"lips","i":67,"v":0.91567},{"s":"lips","i":69,"v":0.9164},{"s":"lips","i":72,"v":0.91714},{"s":"lips","i":74,"v":0.91809},{"s":"lips","i":76,"v":0.91795},{"s":"lips","i":78,"v":0.91729},{"s":"lips","i":80,"v":0.91567},{"s":"lips","i":83,"v":0.9142},{"s":"lips","i":84,"v":0.91317},{"s":"lips","i":86,"v":0.91273},{"s":"lips","i":88,"v":0.91207},{"s":"lips","i":90,"v":0.912},{"s":"lips","i":93,"v":0.91185},{"s":"lips","i":95,"v":0.91141},{"s":"lips","i":99,"v":0.91111},{"s":"lips","i":101,"v":0.91067},{"s":"lips","i":103,"v":0.91008},{"s":"lips","i":106,"v":0.91016},{"s":"lips","i":108,"v":0.91001},{"s":"lips","i":112,"v":0.90979},{"s":"lips","i":115,"v":0.90972},{"s":"lips","i":119,"v":0.90979},{"s":"lips","i":123,"v":0.90986},{"s":"lips","i":126,"v":0.90994},{"s":"lips","i":129,"v":0.9103},{"s":"lips","i":131,"v":0.91016},{"s":"lips","i":135,"v":0.90964},{"s":"lips","i":138,"v":0.90928},{"s":"lips","i":142,"v":0.9092},{"s":"lips","i":144,"v":0.90913},{"s":"lips","i":148,"v":0.90847},{"s":"lips","i":151,"v":0.90803},{"s":"lips","i":155,"v":0.90729},{"s":"lips","i":159,"v":0.90663},{"s":"lips","i":162,"v":0.90641},{"s":"lips","i":166,"v":0.90619},{"s":"lips","i":169,"v":0.90567},{"s":"lips","i":171,"v":0.90538},{"s":"lips","i":174,"v":0.90523},{"s":"lips","i":176,"v":0.90516},{"s":"lips","i":180,"v":0.90435},{"s":"lips","i":183,"v":0.90347},{"s":"lips","i":187,"v":0.90325},{"s":"lips","i":191,"v":0.90318},{"s":"lips","i":195,"v":0.9031},{"s":"lips","i":199,"v":0.90288},{"s":"lips","i":201,"v":0.90303},{"s":"lips","i":203,"v":0.90509},{"s":"lips","i":206,"v":0.90803},{"s":"lips","i":208,"v":0.91023},{"s":"lips","i":211,"v":0.91185},{"s":"lips","i":213,"v":0.91302},{"s":"lips","i":215,"v":0.91391},{"s":"lips","i":218,"v":0.91405},{"s":"lips","i":220,"v":0.91427},{"s":"lips","i":223,"v":0.91346},{"s":"lips","i":226,"v":0.91229},{"s":"lips","i":230,"v":0.91111},{"s":"lips","i":233,"v":0.90979},{"s":"lips","i":237,"v":0.90876},{"s":"lips","i":241,"v":0.90773},{"s":"lips","i":243,"v":0.90722},{"s":"lips","i":245,"v":0.90758},{"s":"lips","i":248,"v":0.90876},{"s":"lips","i":250,"v":0.90994},{"s":"lips","i":252,"v":0.91111},{"s":"lips","i":254,"v":0.91185},{"s":"lips","i":257,"v":0.91185},{"s":"lips","i":260,"v":0.9117},{"s":"lips","i":264,"v":0.91185},{"s":"lips","i":266,"v":0.91192},{"s":"lips","i":269,"v":0.9117},{"s":"lips","i":271,"v":0.91097},{"s":"lips","i":273,"v":0.91008},{"s":"lips","i":276,"v":0.90957},{"s":"lips","i":278,"v":0.90994},{"s":"lips","i":282,"v":0.91038},{"s":"lips","i":284,"v":0.91089},{"s":"lips","i":288,"v":0.91111},{"s":"lips","i":291,"v":0.91111},{"s":"lips","i":294,"v":0.91082},{"s":"lips","i":296,"v":0.90994},{"s":"lips","i":300,"v":0.90935},{"s":"lips","i":303,"v":0.90906},{"s":"lips","i":306,"v":0.90832},{"s":"lips","i":309,"v":0.90803},{"s":"lips","i":313,"v":0.90832},{"s":"lips","i":317,"v":0.90876},{"s":"lips","i":320,"v":0.90935},{"s":"lips","i":323,"v":0.90964},{"s":"lips","i":325,"v":0.90913},{"s":"lips","i":327,"v":0.90861},{"s":"lips","i":331,"v":0.90825},{"s":"lips","i":335,"v":0.90795},{"s":"lips","i":337,"v":0.90788}
],
"sig": [
{"i":0,"v":0.0004},{"i":6,"v":0.00097},{"i":13,"v":0.00105},{"i":19,"v":0.00082},{"i":26,"v":0.0004},{"i":32,"v":0.00082},{"i":37,"v":0.00097},{"i":44,"v":0.0006},{"i":50,"v":0.0002},{"i":56,"v":-0.00017},{"i":60,"v":-0.00024},{"i":66,"v":0.00029},{"i":73,"v":0.00097},{"i":77,"v":0.0009},{"i":82,"v":-0.0003},{"i":87,"v":-0.0011},{"i":95,"v":-0.0011},{"i":102,"v":-0.0011},{"i":110,"v":-0.00074},{"i":118,"v":-0.00047},{"i":128,"v":-0.0001},{"i":136,"v":-0.00017},{"i":142,"v":-0.00035},{"i":150,"v":-0.00043},{"i":157,"v":-0.00074},{"i":166,"v":-0.0008},{"i":176,"v":-0.00074},{"i":183,"v":-0.00093},{"i":190,"v":-0.00074},{"i":196,"v":-0.00035},{"i":200,"v":0.00002},{"i":204,"v":0.00117},{"i":209,"v":0.0023},{"i":214,"v":0.0028},{"i":219,"v":0.0026},{"i":224,"v":0.0017},{"i":228,"v":0.0006},{"i":233,"v":-0.00035},{"i":238,"v":-0.00074},{"i":243,"v":-0.00055},{"i":248,"v":0.0002},{"i":253,"v":0.0008},{"i":257,"v":0.00097},{"i":264,"v":0.00067},{"i":272,"v":0},{"i":276,"v":-0.00035},{"i":281,"v":0},{"i":286,"v":0.0002},{"i":293,"v":0},{"i":298,"v":-0.00024},{"i":305,"v":-0.00063},{"i":312,"v":-0.00047},{"i":319,"v":0.0001},{"i":324,"v":0},{"i":332,"v":-0.00024},{"i":334,"v":-0.00038}
],
"lv": [
{"p":0.91708,"k":"r"},{"p":0.91305,"k":"r"},{"p":0.90893,"k":"r"},{"p":0.90384,"k":"r"},{"p":0.90752,"k":"cur"}
],
"hdr": [{"t":"▼ USDCHF,H1  0.90767 0.90787 0.90749 0.90752"}],
"mhdr": [{"t":"MACD(12,26,9) -0.000386 -0.000380"}]
},
"vconcat": [
{
"width": 1172, "height": 460,
"layer": [
{"data": {"name": "lv"}, "mark": {"type": "rule", "strokeWidth": 1},
 "encoding": {
  "x": {"datum": -1.26, "type": "quantitative", "scale": {"domain": [-1.26, 419.6], "nice": false, "zero": false, "padding": 0},
        "axis": {"orient": "bottom", "tickCount": 1000, "values": [0,8,16,24,32,40,48,56,64,72,80,88,96,104,112,120,128,136,144,152,160,168,176,184,192,200,208,216,224,232,240,248,256,264,272,280,288,296,304,312,320,328,336,344,352,360,368,376,384,392,400,408,416], "labels": false, "ticks": false, "domain": true, "domainColor": "#8c8c8c", "domainWidth": 2, "grid": true, "gridDash": [3,3], "gridColor": {"condition": {"test": "(datum.value - 16) % 24 == 0", "value": "#202020"}, "value": "#c8c8c8"}, "title": null}},
  "x2": {"datum": 419.6},
  "y": {"field": "p", "type": "quantitative", "scale": {"domain": [0.90027, 0.92052], "nice": false, "zero": false, "padding": 0},
        "axis": {"orient": "right", "tickCount": 1000, "values": [0.9199,0.9189,0.91785,0.91685,0.9158,0.9148,0.91375,0.91275,0.9117,0.91065,0.90965,0.9086,0.90655,0.90555,0.9045,0.9035,0.90245,0.90145,0.9004], "format": ".5f", "labelFontSize": 6, "labelPadding": 2, "tickSize": 3, "grid": true, "gridDash": [3,3], "gridColor": "#c8c8c8", "labelOverlap": false, "labelBound": false, "labelFlush": false, "title": null}},
  "color": {"condition": {"test": "datum.k == 'cur'", "value": "#c0c0c0"}, "value": "#ff2a2a"}
 }},
{"mark": {"type": "rule", "strokeWidth": 2, "color": "#9a9a9a"},
 "encoding": {"x": {"datum": -0.9, "type": "quantitative"}}},
{"data": {"name": "bars"}, "mark": {"type": "rule", "strokeWidth": 1},
 "encoding": {
  "x": {"field": "i", "type": "quantitative"},
  "y": {"field": "l", "type": "quantitative"},
  "y2": {"field": "h"},
  "color": {"condition": {"test": "datum.c >= datum.o", "value": "#a4b6ee"}, "value": "#3d62da"}
 }},
{"data": {"name": "bars"}, "mark": {"type": "bar", "size": 2},
 "encoding": {
  "x": {"field": "i", "type": "quantitative"},
  "y": {"field": "o", "type": "quantitative"},
  "y2": {"field": "c"},
  "color": {"condition": {"test": "datum.c >= datum.o", "value": "#a4b6ee"}, "value": "#3d62da"}
 }},
{"data": {"name": "ma"}, "mark": {"type": "line", "strokeWidth": 1, "interpolate": "monotone"},
 "encoding": {
  "x": {"field": "i", "type": "quantitative"},
  "y": {"field": "v", "type": "quantitative"},
  "color": {"field": "s", "type": "nominal", "scale": {"domain": ["jaw","teeth","lips"], "range": ["#3a3af5","#f53a3a","#22e022"]}, "legend": null}
 }},
{"data": {"name": "lv"}, "mark": {"type": "bar", "size": 9},
 "encoding": {
  "x": {"datum": 420.3, "type": "quantitative"},
  "x2": {"datum": 429.6},
  "y": {"field": "p", "type": "quantitative"},
  "color": {"condition": {"test": "datum.k == 'cur'", "value": "#000000"}, "value": "#ff1a1a"}
 }},
{"data": {"name": "lv"}, "mark": {"type": "text", "align": "left", "baseline": "middle", "fontSize": 6, "color": "#ffffff", "font": "Liberation Sans"},
 "encoding": {
  "x": {"datum": 420.9, "type": "quantitative"},
  "y": {"field": "p", "type": "quantitative"},
  "text": {"field": "p", "format": ".5f"}
 }},
{"data": {"name": "hdr"}, "mark": {"type": "text", "align": "left", "baseline": "middle", "fontSize": 6.5, "color": "#000", "font": "Liberation Sans"},
 "encoding": {
  "x": {"datum": 1, "type": "quantitative"},
  "y": {"datum": 0.92035, "type": "quantitative"},
  "text": {"field": "t"}
 }}
]
},
{
"width": 1172, "height": 41,
"layer": [
{"data": {"name": "bars"}, "mark": {"type": "bar", "size": 1, "color": "#c4c4c4"},
 "encoding": {
  "x": {"field": "i", "type": "quantitative", "scale": {"domain": [-1.26, 419.6], "nice": false, "zero": false, "padding": 0},
        "axis": {"orient": "bottom", "tickCount": 1000, "values": [0,8,16,24,32,40,48,56,64,72,80,88,96,104,112,120,128,136,144,152,160,168,176,184,192,200,208,216,224,232,240,248,256,264,272,280,288,296,304,312,320,328,336,344,352,360,368,376,384,392,400,408,416],
                 "labelExpr": "(datum.value % 16 == 0 && datum.value <= 320) ? ['7 Aug 2020','10 Aug 00:00','10 Aug 16:00','11 Aug 08:00','12 Aug 00:00','12 Aug 16:00','13 Aug 08:00','14 Aug 00:00','14 Aug 16:00','17 Aug 08:00','18 Aug 00:00','18 Aug 16:00','19 Aug 08:00','20 Aug 00:00','20 Aug 16:00','21 Aug 08:00','24 Aug 00:00','24 Aug 16:00','25 Aug 08:00','26 Aug 00:00','26 Aug 16:00'][datum.value / 16] : ''",
                 "labelAlign": "left", "labelBaseline": "top", "labelFontSize": 6.5, "labelPadding": 0, "labelOverlap": false, "labelFlush": false, "labelBound": false,
                 "tickSize": 3, "tickColor": {"condition": {"test": "datum.value % 16 == 0 && datum.value <= 320", "value": "#000"}, "value": "rgba(0,0,0,0)"},
                 "domainColor": "#000", "grid": true, "gridDash": [3,3], "gridColor": {"condition": {"test": "(datum.value - 16) % 24 == 0", "value": "#202020"}, "value": "#c8c8c8"}, "title": null}},
  "y": {"field": "m", "type": "quantitative", "scale": {"domain": [-0.00158, 0.00311], "nice": false, "zero": false, "padding": 0},
        "axis": {"orient": "right", "tickCount": 100, "values": [0.00311, 0, -0.00158], "labelExpr": "datum.value == 0 ? '0.00' : format(datum.value, '.5f')", "labelFontSize": 5.7, "labelPadding": 1, "tickSize": 3, "grid": true, "gridDash": [3,3], "gridColor": "#c8c8c8", "gridOpacity": {"condition": {"test": "datum.value == 0", "value": 1}, "value": 0}, "labelBaseline": {"condition": [{"test": "datum.value > 0.003", "value": "top"}, {"test": "datum.value < 0", "value": "bottom"}], "value": "middle"}, "labelOverlap": false, "labelBound": false, "labelFlush": false, "title": null}},
  "y2": {"datum": 0}
 }},
{"mark": {"type": "rule", "strokeWidth": 2, "color": "#9a9a9a"},
 "encoding": {"x": {"datum": -0.9, "type": "quantitative"}}},
{"data": {"name": "sig"}, "mark": {"type": "line", "strokeWidth": 1, "color": "#ff3030", "strokeDash": [2,2], "interpolate": "monotone"},
 "encoding": {
  "x": {"field": "i", "type": "quantitative"},
  "y": {"field": "v", "type": "quantitative"}
 }},
{"data": {"name": "mhdr"}, "mark": {"type": "text", "align": "left", "baseline": "top", "fontSize": 6.5, "color": "#000", "font": "Liberation Sans"},
 "encoding": {
  "x": {"datum": 1, "type": "quantitative"},
  "y": {"datum": 0.00295, "type": "quantitative"},
  "text": {"field": "t"}
 }}
]
}
]
}
